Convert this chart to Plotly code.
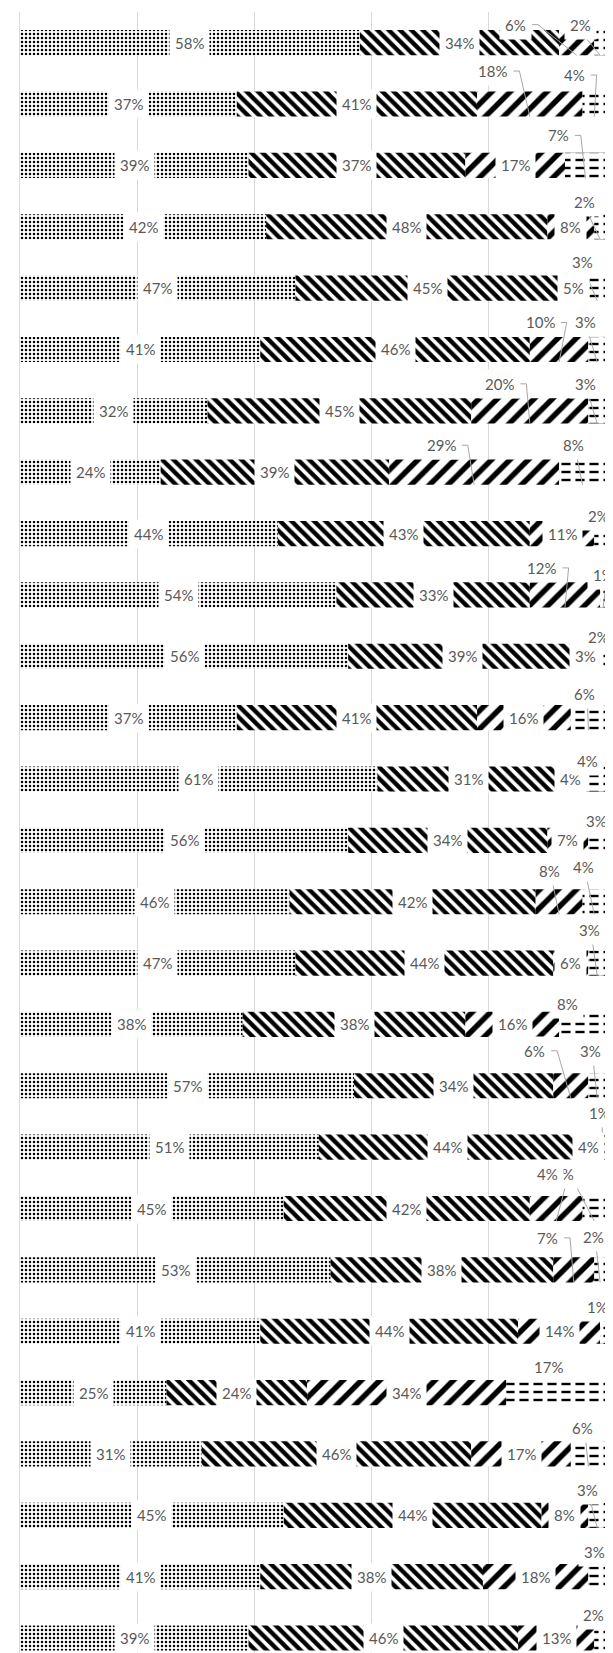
import plotly.graph_objects as go

# ---------------- data ----------------
categories = ["Q1", "Q2", "Q3", "Q4", "Q5", "Q6", "Q7", "Q8", "Q9", "Q10",
              "Q11", "Q12", "Q13", "Q14", "Q15", "Q16", "Q17", "Q18", "Q19",
              "Q20", "Q21", "Q22", "Q23", "Q24", "Q25", "Q26", "Q27"]
series_names = ["Series 1", "Series 2", "Series 3", "Series 4"]
s1 = [58, 37, 39, 42, 47, 41, 32, 24, 44, 54, 56, 37, 61, 56, 46, 47, 38, 57, 51, 45, 53, 41, 25, 31, 45, 41, 39]
s2 = [34, 41, 37, 48, 45, 46, 45, 39, 43, 33, 39, 41, 31, 34, 42, 44, 38, 34, 44, 42, 38, 44, 24, 46, 44, 38, 46]
s3 = [6, 18, 17, 8, 5, 10, 20, 29, 11, 12, 3, 16, 4, 7, 8, 6, 16, 6, 4, 9, 7, 14, 34, 17, 8, 18, 13]
s4 = [2, 4, 7, 2, 3, 3, 3, 8, 2, 1, 2, 6, 4, 3, 4, 3, 8, 3, 1, 4, 2, 1, 17, 6, 3, 3, 2]
values = [s1, s2, s3, s4]

# label placement (style): (row, series) -> (dx px, dy px, leader style)
label_offsets = {
    (0, 2): (-61, -18, "r"), (0, 3): (-20, -18, "b"),
    (1, 2): (-37, -33, "r"), (1, 3): (-20, -29, "r"),
    (2, 3): (-27, -30, "r"),
    (3, 3): (-16, -25, "b"),
    (4, 3): (-15, -26, "b"),
    (5, 2): (-19, -27, "r"), (5, 3): (-12, -27, "b"),
    (6, 2): (-30, -27, "r"), (6, 3): (-12, -27, "b"),
    (7, 2): (-33, -27, "r"), (7, 3): (-9, -27, "b"),
    (8, 3): (-2, -18, None),
    (9, 2): (-23, -27, "r"), (9, 3): (0, -20, "b"),
    (10, 3): (-2, -19, None),
    (11, 3): (-4, -24, "b"),
    (12, 3): (-7, -18, None),
    (13, 3): (-1, -19, None),
    (14, 2): (-10, -31, "b"), (14, 3): (-11, -35, "b"),
    (15, 3): (-8, -33, "b"),
    (16, 3): (-15, -20, None),
    (17, 2): (-36, -35, "r"), (17, 3): (-7, -35, "b"),
    (18, 3): (-4, -34, "b"),
    (19, 2): (7, -35, "b"), (19, 3): (-47, -35, "r"),
    (20, 2): (-26, -32, "r"), (20, 3): (-7, -33, "b"),
    (21, 3): (-6, -24, None),
    (22, 3): (-8, -26, None),
    (23, 3): (-6, -26, "b"),
    (24, 3): (-10, -25, "b"),
    (25, 3): (-3, -25, None),
    (26, 3): (-7, -23, None),
}

# ---------------- layout geometry ----------------
W, H = 613, 1653
ML, MR, MT, MB = 12, 15, 4, 8
n = len(categories)
y_top, y_bot = -0.5, n - 1 + 0.244
px_x = (W - ML - MR) / 100.0
px_y = (H - MT - MB) / (y_bot - y_top)
BAR_W = 0.41
ypos = list(range(n))

patterns = [
    dict(shape=".", fgcolor="#000000", bgcolor="white", size=4, solidity=0.3, fgopacity=1),
    dict(shape="\\", fgcolor="#000000", bgcolor="white", size=8, solidity=0.55, fgopacity=1),
    dict(shape="/", fgcolor="#000000", bgcolor="white", size=13, solidity=0.42, fgopacity=1),
    dict(shape="-", fgcolor="#000000", bgcolor="white", size=8, solidity=0.3, fgopacity=1),
]

bases = []
run = [0] * n
for vals in values:
    bases.append(list(run))
    run = [r + v for r, v in zip(run, vals)]

fig = go.Figure()
for k, vals in enumerate(values):
    fig.add_trace(go.Bar(
        y=ypos, x=vals, base=bases[k], orientation="h", width=BAR_W,
        name=series_names[k], showlegend=False,
        marker=dict(color="white", opacity=1, pattern=patterns[k], line=dict(width=0)),
    ))
# white vertical cuts turn the horizontal lines of series 4 into dashes
fig.add_trace(go.Bar(
    y=ypos, x=s4, base=bases[3], orientation="h", width=BAR_W,
    showlegend=False, hoverinfo="skip",
    marker=dict(color="rgba(0,0,0,0)", opacity=1,
                pattern=dict(shape="|", fgcolor="white", bgcolor="rgba(0,0,0,0)",
                             size=14, solidity=0.35, fgopacity=1),
                line=dict(width=0)),
))

FONT = dict(family="Lato, 'Noto Sans', sans-serif", size=15, color="#595959")
PAD = 5
annotations, shapes = [], []
for k, vals in enumerate(values):
    for i, v in enumerate(vals):
        cx = bases[k][i] + v / 2.0
        txt = f"{v}%"
        off = label_offsets.get((i, k))
        if off is None:
            annotations.append(dict(x=cx, y=i, text=txt, showarrow=False,
                                    xanchor="center", yanchor="middle",
                                    bgcolor="white", borderpad=PAD, font=FONT))
            continue
        dx, dy, lead = off
        lx = cx + dx / px_x
        ly = i + dy / px_y
        annotations.append(dict(x=lx, y=ly, text=txt, showarrow=False,
                                xanchor="center", yanchor="middle",
                                bgcolor="white", borderpad=PAD, font=FONT))
        if lead is None:
            continue
        tw = 8.6 * (len(txt) - 1) + 12
        ex, ey = cx, i + BAR_W / 2
        if lead == "r":
            sx = lx + (tw / 2 + PAD + 1) / px_x
            mx = sx + 6 / px_x
            path = f"M {sx},{ly} L {mx},{ly} L {ex},{ey}"
        else:
            sx = lx + 3 / px_x
            sy = ly + 10 / px_y
            path = f"M {sx},{sy} L {ex},{ey}"
        shapes.append(dict(type="path", xref="x", yref="y", path=path,
                           line=dict(color="#a6a6a6", width=1), layer="above"))

fig.update_layout(
    width=W, height=H,
    margin=dict(l=ML, r=MR, t=MT, b=MB),
    barmode="overlay",
    paper_bgcolor="white", plot_bgcolor="white",
    annotations=annotations, shapes=shapes,
    showlegend=False,
)
fig.update_xaxes(range=[0, 100], dtick=20, showgrid=True, gridcolor="#d9d9d9",
                 gridwidth=1, zeroline=False, showticklabels=False, ticks="",
                 showline=False, fixedrange=True)
fig.update_yaxes(range=[y_bot, y_top], tickvals=ypos, ticktext=categories,
                 showticklabels=False, ticks="", showgrid=False, zeroline=False,
                 showline=True, mirror=True, linecolor="#d9d9d9", linewidth=1,
                 fixedrange=True)

fig.write_html("out.html")
